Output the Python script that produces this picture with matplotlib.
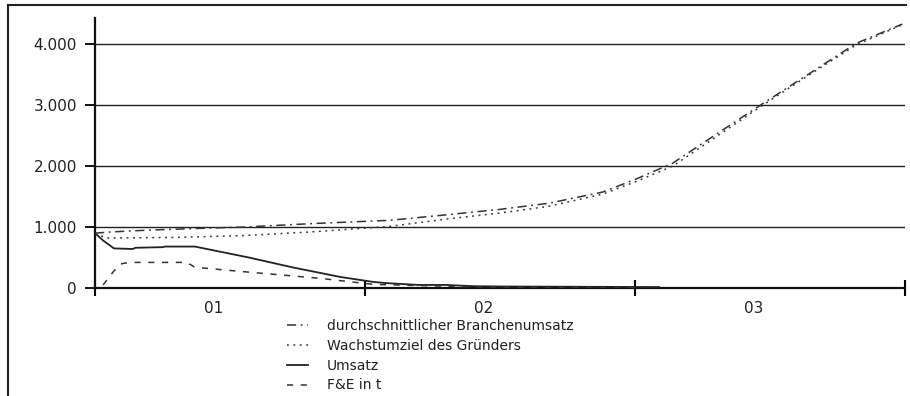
import matplotlib
matplotlib.use("Agg")
import matplotlib.pyplot as plt
from matplotlib.lines import Line2D

# time in years since start
t_branche = [0.0, 0.06, 0.2, 0.4, 0.55, 0.82, 1.09, 1.3, 1.5, 1.68, 1.88, 2.0, 2.14, 2.3, 2.47, 2.65, 2.82, 2.99]
branche = [900, 920, 950, 980, 1000, 1060, 1110, 1200, 1290, 1390, 1574, 1780, 2049, 2520, 3016, 3530, 4016, 4330]

t_ziel = [0.0, 0.05, 0.3, 0.55, 0.8, 1.09, 1.3, 1.5, 1.68, 1.88, 2.0, 2.14, 2.3, 2.47, 2.65, 2.82, 2.99]
ziel = [880, 820, 830, 860, 920, 1010, 1130, 1230, 1340, 1540, 1740, 2000, 2480, 2990, 3510, 3990, 4320]

t_umsatz = [0.0, 0.03, 0.07, 0.14, 0.15, 0.25, 0.26, 0.37, 0.57, 0.73, 0.91, 1.03, 1.08, 1.2, 1.3, 1.4, 1.5, 1.8, 2.09]
umsatz = [900, 780, 650, 640, 660, 670, 680, 680, 500, 340, 180, 100, 80, 50, 50, 30, 25, 20, 15]

t_fe = [0.03, 0.07, 0.1, 0.13, 0.34, 0.37, 0.57, 0.83, 1.03, 1.2, 1.4, 1.6, 2.0]
fe = [50, 280, 400, 420, 420, 340, 260, 160, 60, 40, 20, 10, 5]

labels = ["durchschnittlicher Branchenumsatz", "Wachstumziel des Gründers", "Umsatz", "F&E in t"]
x_ticks = [0, 1, 2, 3]
x_tick_labels = ["01", "02", "03"]
y_ticks = [0, 1000, 2000, 3000, 4000]
y_tick_labels = ["0", "1.000", "2.000", "3.000", "4.000"]

fig = plt.figure(figsize=(9.1, 3.96), dpi=100)
ax = fig.add_axes([95/910, 1-288/396, 810/910, 270/396])

for yv in y_ticks[1:]:
    ax.axhline(yv, color="#222222", lw=1.0, zorder=1)

col = "#333333"
l1, = ax.plot(t_branche, branche, color=col, lw=1.1, dashes=(6, 3, 1.2, 3), label=labels[0], zorder=3)
l2, = ax.plot(t_ziel, ziel, color=col, lw=1.1, dashes=(1.2, 3), label=labels[1], zorder=3)
l3, = ax.plot(t_umsatz, umsatz, color="#222222", lw=1.3, label=labels[2], zorder=3)
l4, = ax.plot(t_fe, fe, color=col, lw=1.1, dashes=(4, 5), label=labels[3], zorder=3)

ax.set_xlim(0, 3)
ax.set_ylim(0, 4430)
for s in ["top", "right"]:
    ax.spines[s].set_visible(False)
for s in ["left", "bottom"]:
    ax.spines[s].set_linewidth(1.6)
    ax.spines[s].set_color("#111111")

ax.set_yticks(y_ticks)
ax.set_yticklabels(y_tick_labels, fontsize=11, color="#222222")
ax.tick_params(axis="y", direction="out", length=7, width=1.3, pad=6)
ax.set_xticks(x_ticks)
ax.set_xticklabels([])
ax.tick_params(axis="x", direction="inout", length=12, width=1.5)

for i, lab in enumerate(x_tick_labels):
    ax.text(i + 0.44, -0.075, lab, transform=ax.get_xaxis_transform(),
            ha="center", va="center", fontsize=11, color="#222222")

fig.legend(handles=[l1, l2, l3, l4], loc="upper left",
           bbox_to_anchor=(280/910, 1-312/396), frameon=False,
           fontsize=10, handlelength=1.5, handletextpad=1.4,
           labelspacing=0.42, borderpad=0, labelcolor="#222222")

# outer frame
fig.add_artist(Line2D([8/910, 8/910], [0, 1-5/396], color="#222222", lw=1.5))
fig.add_artist(Line2D([8/910, 906/910], [1-5/396, 1-5/396], color="#222222", lw=1.5))

fig.savefig("out.png", dpi=100)
